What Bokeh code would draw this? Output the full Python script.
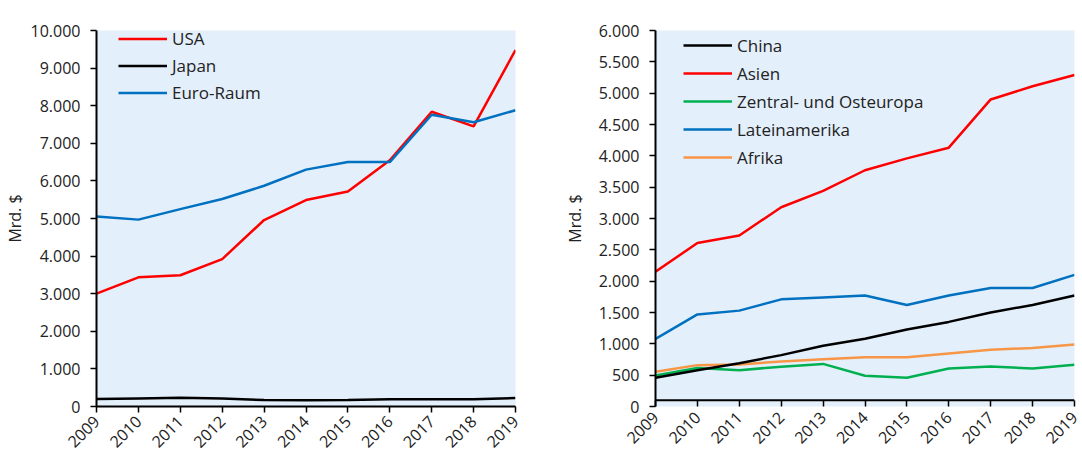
from bokeh.plotting import figure
from bokeh.layouts import row
from bokeh.models import Legend, LegendItem, FixedTicker, CustomJSTickFormatter, Range1d, Span
from bokeh.embed import file_html
from bokeh.resources import INLINE
import math

years = [2009, 2010, 2011, 2012, 2013, 2014, 2015, 2016, 2017, 2018, 2019]

# Left panel (Mrd. $)
usa = [3000, 3435, 3490, 3920, 4960, 5490, 5720, 6550, 7840, 7450, 9480]
japan = [200, 215, 230, 210, 170, 165, 175, 190, 195, 195, 225]
euro = [5050, 4970, 5250, 5520, 5870, 6300, 6500, 6500, 7760, 7560, 7880]

# Right panel (Mrd. $)
china = [460, 580, 690, 820, 970, 1080, 1230, 1350, 1500, 1620, 1770]
asien = [2150, 2610, 2730, 3180, 3440, 3770, 3960, 4130, 4900, 5110, 5290]
zoe = [495, 615, 580, 635, 680, 490, 460, 605, 640, 605, 665]
latam = [1080, 1470, 1530, 1710, 1740, 1770, 1620, 1770, 1890, 1890, 2100]
afrika = [555, 660, 670, 720, 755, 785, 785, 845, 905, 935, 990]

left_names = ["USA", "Japan", "Euro-Raum"]
right_names = ["China", "Asien", "Zentral- und Osteuropa", "Lateinamerika", "Afrika"]
left_ticks = [0, 1000, 2000, 3000, 4000, 5000, 6000, 7000, 8000, 9000, 10000]
right_ticks = [0, 500, 1000, 1500, 2000, 2500, 3000, 3500, 4000, 4500, 5000, 5500, 6000]
right_cross = 100  # value where the right panel's horizontal axis crosses

FONT = "Open Sans"
BG = "#E3EFFB"
TXT = "#222222"
RED = "#FF0000"
BLACK = "#000000"
BLUE = "#0070C0"
GREEN = "#00B050"
ORANGE = "#F79646"

thousands = CustomJSTickFormatter(code="""
    return tick.toFixed(0).replace(/\\B(?=(\\d{3})+(?!\\d))/g, '.');
""")
yearfmt = CustomJSTickFormatter(code="return tick.toFixed(0);")


def make_fig(w, bl, br, bt, bb, ymax, yticks, label_standoff):
    p = figure(width=w, height=458, x_range=Range1d(years[0], years[-1]),
               y_range=Range1d(0, ymax), output_backend="svg", toolbar_location=None,
               min_border_left=bl, min_border_right=br, min_border_top=bt,
               min_border_bottom=bb)
    p.background_fill_color = BG
    p.border_fill_color = "white"
    p.outline_line_color = None
    p.grid.visible = False
    p.yaxis.ticker = FixedTicker(ticks=yticks)
    p.yaxis.formatter = thousands
    p.xaxis.ticker = FixedTicker(ticks=years)
    p.xaxis.formatter = yearfmt
    p.xaxis.major_label_orientation = math.pi / 4
    for ax in (p.xaxis, p.yaxis):
        ax.axis_line_color = BLACK
        ax.axis_line_width = 2
        ax.major_tick_line_color = BLACK
        ax.major_tick_line_width = 1.5
        ax.major_tick_out = 6
        ax.major_tick_in = 0
        ax.minor_tick_line_color = None
        ax.major_label_text_font = FONT
        ax.major_label_text_font_size = "16px"
        ax.major_label_text_color = TXT
    p.yaxis.major_label_standoff = 10
    p.xaxis.major_label_standoff = 6
    p.yaxis.axis_label = "Mrd. $"
    p.yaxis.axis_label_text_font = FONT
    p.yaxis.axis_label_text_font_size = "16px"
    p.yaxis.axis_label_text_font_style = "normal"
    p.yaxis.axis_label_text_color = TXT
    p.yaxis.axis_label_standoff = label_standoff
    return p


def make_legend(items, loc, row_h):
    lg = Legend(items=items, location=loc, margin=0, padding=0, spacing=0,
                glyph_width=49, glyph_height=row_h, label_height=row_h,
                label_width=60, label_standoff=5, label_text_font=FONT,
                label_text_font_size="17px", label_text_color=TXT,
                background_fill_alpha=0, border_line_alpha=0)
    return lg


# Left figure
p1 = make_fig(560, 96, 45, 18, 52, 10000, left_ticks, 2)
lw = 2.5
r_usa = p1.line(years, usa, line_color=RED, line_width=lw)
r_jap = p1.line(years, japan, line_color=BLACK, line_width=lw)
r_eur = p1.line(years, euro, line_color=BLUE, line_width=lw)
p1.add_layout(make_legend([
    LegendItem(label=left_names[0], renderers=[r_usa]),
    LegendItem(label=left_names[1], renderers=[r_jap]),
    LegendItem(label=left_names[2], renderers=[r_eur]),
], (22, 300), 27))

# Right figure
p2 = make_fig(522, 91, 8, 30, 50, 6000, right_ticks, 10)
p2.xaxis.axis_line_color = None
p2.xaxis.major_tick_in = 6
p2.xaxis.major_tick_out = 0
p2.xaxis.major_label_standoff = 8
p2.add_layout(Span(location=right_cross, dimension="width", line_color=BLACK, line_width=2))
r_afr = p2.line(years, afrika, line_color=ORANGE, line_width=lw)
r_zoe = p2.line(years, zoe, line_color=GREEN, line_width=lw)
r_lat = p2.line(years, latam, line_color=BLUE, line_width=lw)
r_chi = p2.line(years, china, line_color=BLACK, line_width=lw)
r_asi = p2.line(years, asien, line_color=RED, line_width=lw)
p2.add_layout(make_legend([
    LegendItem(label=right_names[0], renderers=[r_chi]),
    LegendItem(label=right_names[1], renderers=[r_asi]),
    LegendItem(label=right_names[2], renderers=[r_zoe]),
    LegendItem(label=right_names[3], renderers=[r_lat]),
    LegendItem(label=right_names[4], renderers=[r_afr]),
], (28, 235), 28))

layout = row(p1, p2, spacing=0)
open("out.html", "w").write(file_html(layout, INLINE))
